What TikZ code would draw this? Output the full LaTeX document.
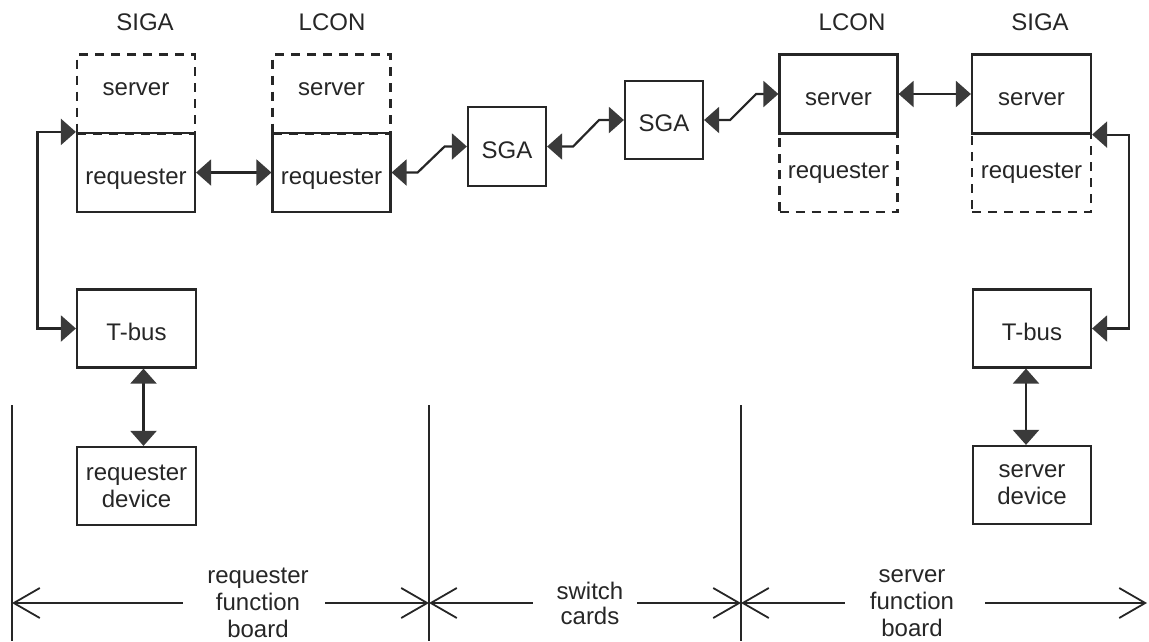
\documentclass[tikz,border=0pt]{standalone}
\usepackage{fontspec}
\setmainfont{Liberation Sans}
\usetikzlibrary{arrows.meta}
\definecolor{ink}{HTML}{262626}
\definecolor{tipc}{HTML}{3A3A3A}
\begin{document}
\begin{tikzpicture}[x=1pt,y=-1pt,
  >={Triangle[length=15pt,width=26pt,color=tipc]},
  dimtip/.tip={Straight Barb[length=26pt,width=30pt]},
  txt/.style={text=ink, font=\fontsize{24}{27}\selectfont},
  box/.style={txt, draw=ink, line width=2.2pt, inner sep=0pt, minimum width=118pt, minimum height=79pt},
  lift/.style={text height=23pt, text depth=0pt},
  dbox/.style={box, dash pattern=on 9pt off 7pt},
  dhigh/.style={text height=7pt, text depth=5pt},
  dmid/.style={text height=12pt, text depth=0.6pt},
  lbl/.style={txt, inner sep=0pt},
  bi/.style={draw=ink, line width=2.2pt, <->},
  divider/.style={draw=ink, line width=1.5pt},
  dim/.style={draw=ink, line width=1.8pt}
]
\useasboundingbox (0,0) rectangle (1149,641);

% top labels
\node[lbl] (tSL) at (145,22) {SIGA};
\node[lbl] (tLL) at (332,22) {LCON};
\node[lbl] (tLR) at (852,22) {LCON};
\node[lbl] (tSR) at (1040,22) {SIGA};

% requester side
\node[dbox,dhigh] (sLs) at (136,94) {server};
\node[box,lift] (sLr) at (136,172.5) {requester};
\node[dbox,dhigh] (lLs) at (331.5,94) {server};
\node[box,lift] (lLr) at (331.5,172.5) {requester};

% switch cards
\node[box,lift,minimum width=78pt] (g1) at (507,146.5) {SGA};
\node[box,lift,minimum width=78pt,minimum height=78pt] (g2) at (664,120) {SGA};

% server side
\node[dbox,dmid] (lRr) at (838.5,172.5) {requester};
\node[box,lift] (lRs) at (838.5,94) {server};
\node[dbox,dmid,minimum width=119pt] (sRr) at (1031.5,172.5) {requester};
\node[box,lift,minimum width=119pt] (sRs) at (1031.5,94) {server};

% T-bus and devices
\node[box,lift,minimum width=119pt,minimum height=78pt] (tL) at (136.5,328.5) {T-bus};
\node[box,align=center,minimum width=119pt,minimum height=78pt] (dL) at (136.5,486) {requester\\device};
\node[box,lift,minimum width=118pt,minimum height=78pt] (tR) at (1032,328.5) {T-bus};
\node[box,align=center,minimum width=118pt,minimum height=78pt] (dR) at (1032,485) {server\\device};

% connectors
\draw[bi] (sLr) -- (lLr);
\draw[bi] (lRs) -- (sRs);
\draw[bi] (lLr.east) -- ++(26,0) -- ++(27,-26) -- (g1.west);
\draw[bi] (g1.east) -- ++(26,0) -- ++(26,-26.5) -- (g2.west);
\draw[bi] (g2.east) -- ++(26,0) -- ++(26,-26) -- (lRs.west);
\draw[bi] (tL.west) -- ++(-38.5,0) |- (sLr.north west);
\draw[bi] (tR.east) -- ++(37,0) |- (sRs.south east);
\draw[bi] ([xshift=7pt]tL.south) -- ([xshift=7pt]dL.north);
\draw[bi] ([xshift=-6pt]tR.south) -- ([xshift=-6pt]dR.north);

% dividers
\coordinate (v0a) at (12,405);  \coordinate (v0b) at (12,641);
\coordinate (v1a) at (429,405); \coordinate (v1b) at (429,641);
\coordinate (v2a) at (741,405); \coordinate (v2b) at (741,641);
\draw[divider] (v0a) -- (v0b);
\draw[divider] (v1a) -- (v1b);
\draw[divider] (v2a) -- (v2b);

% dimension line
\coordinate (d0) at (12,603);
\coordinate (d1) at (429,603);
\coordinate (d2) at (741,603);
\coordinate (d3) at (1147,603);
\coordinate (g1a) at (183,603);  \coordinate (g1b) at (325,603);
\coordinate (g2a) at (533,603);  \coordinate (g2b) at (637,603);
\coordinate (g3a) at (845,603);  \coordinate (g3b) at (985,603);
\draw[dim,dimtip-] (d0) -- (g1a);
\draw[dim,-dimtip] (g1b) -- (d1);
\draw[dim,dimtip-] (d1) -- (g2a);
\draw[dim,-dimtip] (g2b) -- (d2);
\draw[dim,dimtip-] (d2) -- (g3a);
\draw[dim,-dimtip] (g3b) -- (d3);

\node[lbl,align=center] (lab1) at (258,603) {requester\\function\\board};
\node[lbl,align=center,font=\fontsize{24}{25}\selectfont] (lab2) at (590,603) {switch\\cards};
\node[lbl,align=center] (lab3) at (912,603) {server\\function\\board};
\end{tikzpicture}
\end{document}
